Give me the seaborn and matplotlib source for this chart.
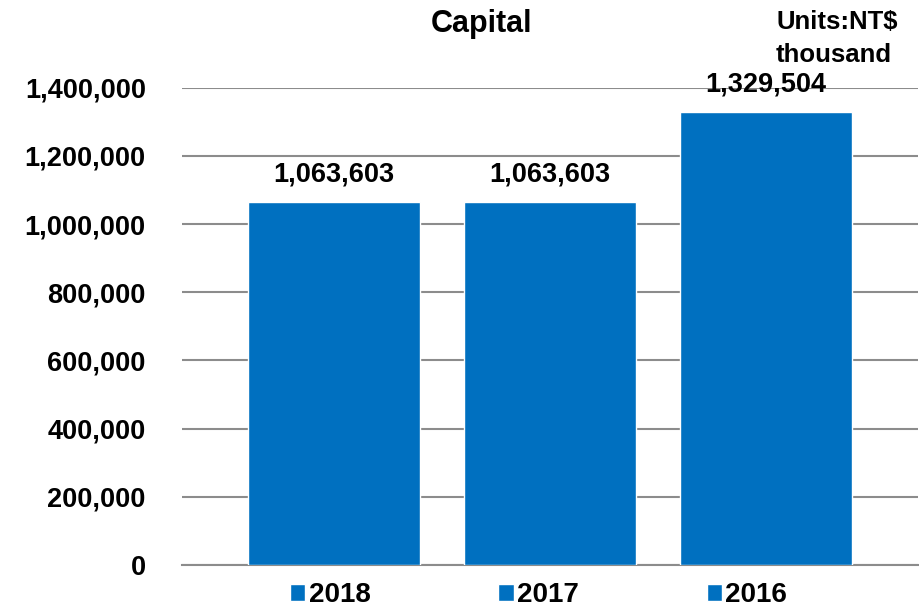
import pandas as pd
import seaborn as sns
import matplotlib.pyplot as plt
from matplotlib.ticker import FuncFormatter

years = ['2018', '2017', '2016']
capital = [1063603, 1063603, 1329504]
bar_color = '#0070C0'

df = pd.DataFrame({'year': years, 'capital': capital})

sns.set_theme(style='white')
plt.rcParams['font.family'] = ['Liberation Sans', 'DejaVu Sans']
plt.rcParams['font.weight'] = 'bold'
plt.rcParams['text.color'] = 'black'
plt.rcParams['ytick.color'] = 'black'

fig = plt.figure(figsize=(9.19, 6.11), dpi=100)
ax = fig.add_axes([0.198, 0.0753, 0.801, 0.781])

sns.barplot(data=df, x='year', y='capital', hue='year', palette=[bar_color] * 3,
            width=0.8, saturation=1, ax=ax, legend=True, zorder=3)

ax.set_ylim(0, 1400000)
ax.set_xlim(-0.704, 2.704)
ax.set_yticks(range(0, 1400001, 200000))
ax.yaxis.set_major_formatter(FuncFormatter(lambda v, p: f'{int(v):,}'))
ax.tick_params(axis='y', labelsize=19.5, pad=26, length=0, labelcolor='black')
ax.set_xticks([])
ax.set_xlabel('')
ax.set_ylabel('')
for lab in ax.get_yticklabels():
    lab.set_fontweight('bold')

ax.grid(axis='y', color='#8c8c8c', linewidth=1.5, zorder=0)
for s in ['top', 'right', 'left']:
    ax.spines[s].set_visible(False)
ax.spines['bottom'].set_color('#8c8c8c')
ax.spines['bottom'].set_linewidth(1.5)

# data labels
for i, v in enumerate(capital):
    ax.annotate(f'{v:,}', (i, v), xytext=(0, 20), textcoords='offset points',
                ha='center', va='center', fontsize=19.5, fontweight='bold',
                color='black', clip_on=False, zorder=5)

handles, labels = ax.get_legend_handles_labels()
ax.get_legend().remove()
fig.legend(handles, labels, loc='center', bbox_to_anchor=(0.586, 0.026), ncol=3,
           frameon=False, prop={'size': 20, 'weight': 'bold'},
           handlelength=0.55, handleheight=0.55, handletextpad=0.12, columnspacing=4.6)

fig.text(482 / 919, 1 - 24 / 611, 'Capital', ha='center', va='center',
         fontsize=22, fontweight='bold')
fig.text(776 / 919, 1 - 22 / 611, 'Units:NT$', ha='left', va='center',
         fontsize=18.5, fontweight='bold')
fig.text(776 / 919, 1 - 55 / 611, 'thousand', ha='left', va='center',
         fontsize=18.5, fontweight='bold')

fig.savefig('out.png', dpi=100)
